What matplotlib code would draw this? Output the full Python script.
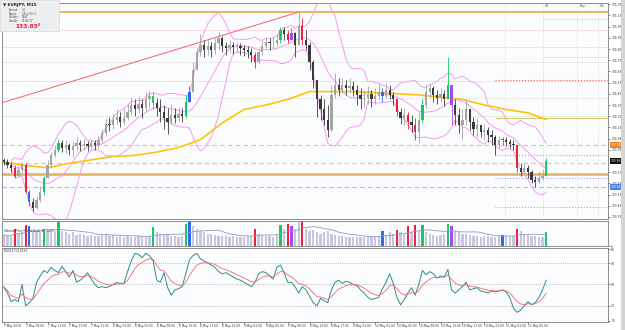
import numpy as np
import pandas as pd
import matplotlib
matplotlib.use("Agg")
import matplotlib.pyplot as plt
from matplotlib.patches import Rectangle

W, H = 625, 330

symbol = "EURJPY, M15"
bid = 133.850
first_open = 133.86

# M15 candles, thinned (one drawn bar per ~40 minutes), prices in yen
close = [133.84, 133.81, 133.79, 133.72, 133.77, 133.81, 133.57, 133.48, 133.43, 133.50,
         133.57, 133.70, 133.81, 133.90, 133.95, 134.01, 133.97, 133.99, 133.95, 133.98,
         134.01, 133.99, 134.00, 133.98, 134.01, 133.99, 134.04, 134.10, 134.18, 134.17,
         134.22, 134.24, 134.20, 134.23, 134.29, 134.35, 134.31, 134.36, 134.32, 134.40,
         134.43, 134.37, 134.32, 134.29, 134.23, 134.20, 134.26, 134.23, 134.27, 134.25,
         134.38, 134.47, 134.66, 134.82, 134.89, 134.84, 134.88, 134.84, 134.90, 134.95,
         134.88, 134.86, 134.89, 134.87, 134.88, 134.86, 134.84, 134.82, 134.80, 134.73,
         134.82, 134.88, 134.91, 134.90, 134.90, 134.93, 135.02, 134.98, 134.93, 134.99,
         134.89, 135.06, 134.93, 134.89, 134.73, 134.57, 134.40, 134.31, 134.22, 134.13,
         134.44, 134.53, 134.48, 134.53, 134.50, 134.52, 134.48, 134.44, 134.40, 134.41,
         134.45, 134.40, 134.43, 134.47, 134.43, 134.48, 134.44, 134.40, 134.29, 134.23,
         134.26, 134.20, 134.17, 134.11, 134.22, 134.35, 134.47, 134.50, 134.44, 134.41,
         134.45, 134.40, 134.53, 134.35, 134.26, 134.17, 134.22, 134.31, 134.20, 134.14,
         134.17, 134.11, 134.13, 134.08, 134.06, 133.99, 134.04, 134.04, 134.02, 134.00,
         133.99, 133.79, 133.75, 133.79, 133.75, 133.68, 133.66, 133.70, 133.72, 133.85]
high = [133.88, 133.87, 133.84, 133.81, 133.81, 133.84, 133.83, 133.59, 133.52, 133.54,
        133.63, 133.72, 133.86, 133.93, 133.99, 134.05, 134.04, 134.04, 134.01, 134.03,
        134.06, 134.04, 134.05, 134.03, 134.05, 134.04, 134.07, 134.14, 134.23, 134.24,
        134.28, 134.31, 134.29, 134.31, 134.36, 134.42, 134.40, 134.43, 134.40, 134.47,
        134.48, 134.47, 134.41, 134.40, 134.35, 134.32, 134.36, 134.32, 134.33, 134.32,
        134.44, 134.52, 134.73, 134.86, 134.98, 134.93, 134.93, 134.91, 134.95, 135.00,
        134.97, 134.91, 134.93, 134.91, 134.91, 134.90, 134.89, 134.88, 134.86, 134.82,
        134.86, 134.93, 134.96, 134.95, 134.96, 134.98, 135.05, 135.05, 135.02, 135.04,
        135.00, 135.18, 135.13, 135.02, 134.91, 134.75, 134.56, 134.44, 134.40, 134.35,
        134.53, 134.64, 134.59, 134.59, 134.57, 134.59, 134.56, 134.53, 134.50, 134.48,
        134.52, 134.48, 134.50, 134.54, 134.50, 134.55, 134.53, 134.47, 134.40, 134.32,
        134.32, 134.29, 134.26, 134.23, 134.29, 134.40, 134.53, 134.55, 134.52, 134.48,
        134.50, 134.48, 134.78, 134.53, 134.40, 134.32, 134.31, 134.40, 134.31, 134.24,
        134.23, 134.17, 134.18, 134.15, 134.13, 134.08, 134.07, 134.06, 134.06, 134.05,
        134.04, 133.99, 133.83, 133.83, 133.81, 133.77, 133.72, 133.75, 133.77, 133.88]
low = [133.81, 133.79, 133.75, 133.70, 133.72, 133.75, 133.56, 133.45, 133.40, 133.42,
       133.48, 133.55, 133.70, 133.79, 133.89, 133.93, 133.93, 133.92, 133.90, 133.89,
       133.95, 133.94, 133.95, 133.94, 133.96, 133.95, 133.97, 134.01, 134.07, 134.12,
       134.14, 134.18, 134.15, 134.17, 134.22, 134.26, 134.25, 134.28, 134.23, 134.29,
       134.32, 134.31, 134.25, 134.20, 134.14, 134.09, 134.18, 134.19, 134.21, 134.20,
       134.23, 134.41, 134.47, 134.66, 134.79, 134.78, 134.80, 134.78, 134.81, 134.84,
       134.82, 134.80, 134.82, 134.81, 134.82, 134.80, 134.79, 134.77, 134.73, 134.68,
       134.72, 134.80, 134.86, 134.84, 134.85, 134.88, 134.90, 134.93, 134.90, 134.93,
       134.78, 134.89, 134.89, 134.84, 134.66, 134.50, 134.24, 134.22, 134.17, 134.06,
       134.11, 134.41, 134.43, 134.46, 134.44, 134.46, 134.43, 134.35, 134.31, 134.32,
       134.36, 134.33, 134.36, 134.40, 134.38, 134.41, 134.40, 134.35, 134.25, 134.18,
       134.17, 134.14, 134.11, 134.04, 134.01, 134.20, 134.32, 134.41, 134.38, 134.36,
       134.38, 134.34, 134.40, 134.17, 134.17, 134.10, 134.04, 134.17, 134.13, 134.08,
       134.06, 134.06, 134.04, 134.02, 133.99, 133.90, 133.97, 133.99, 133.98, 133.97,
       133.95, 133.75, 133.72, 133.73, 133.70, 133.65, 133.62, 133.65, 133.68, 133.72]

# bars painted by the volume-spread indicator (same colour on candle and volume)
highlight = {3: 'r', 6: 'r', 7: 'b', 11: 'g', 15: 'g', 41: 'g', 50: 'g', 51: 'b',
             69: 'r', 76: 'g', 78: 'r', 79: 'm', 82: 'r', 104: 'b', 108: 'r',
             111: 'r', 113: 'r', 115: 'g', 122: 'g', 123: 'm', 137: 'b', 141: 'r',
             149: 'g'}

volume = [45, 40, 42, 70, 50, 55, 85, 80, 65, 60, 55, 70, 60, 55, 60, 95, 60, 55, 50, 55,
          45, 50, 45, 40, 45, 40, 42, 45, 50, 40, 45, 38, 40, 35, 40, 38, 35, 40, 35, 38,
          42, 75, 55, 50, 45, 48, 42, 40, 38, 40, 90, 95, 80, 70, 60, 55, 50, 48, 45, 42,
          40, 42, 38, 40, 38, 36, 38, 40, 42, 70, 50, 45, 42, 40, 38, 45, 85, 70, 90, 80,
          70, 95, 95, 70, 60, 65, 55, 50, 55, 60, 50, 45, 42, 40, 38, 36, 38, 35, 38, 36,
          40, 38, 35, 40, 60, 45, 55, 50, 65, 55, 50, 80, 55, 85, 60, 85, 55, 50, 45, 42,
          45, 48, 90, 80, 60, 55, 50, 48, 45, 42, 40, 38, 40, 42, 38, 36, 40, 45, 40, 38,
          42, 70, 60, 50, 45, 42, 40, 38, 35, 55]
volume_label = "Volume Price (Chart Scale 1)  1447"

rsi = [47.7, 42, 34, 36, 34, 50, 30, 33, 37, 52, 58, 63, 61, 66, 63, 61, 67, 62, 57, 63,
       52, 54, 57, 61, 55, 50, 47, 48, 47, 48, 50, 52, 51, 51, 62, 72, 79, 78, 75, 79,
       77, 72, 54, 52, 61, 47, 40, 45, 46, 48, 60, 73, 77, 79, 74, 72, 70, 68, 66, 62,
       60, 61, 59, 57, 55, 54, 52, 50, 48, 52, 60, 62, 61, 58, 55, 66, 68, 61, 52, 52,
       48, 42, 48, 45, 39, 33, 30, 37, 35, 33, 45, 52, 54, 51, 53, 52, 50, 49, 45, 42,
       38, 36, 37, 38, 46, 52, 60, 51, 38, 31, 36, 42, 47, 40, 50, 63, 59, 62, 60, 56,
       58, 57, 64, 45, 42, 45, 48, 52, 45, 46, 47, 44, 43, 42, 44, 43, 44, 45, 43, 38,
       28, 24, 26, 30, 34, 31, 33, 38, 45, 54]
rsi_label = "RSI(14) 54.0523"

# slow moving average, read every 6 bars (last point on the last bar)
ma_step = 6
ma_slow = [133.84, 133.81, 133.79, 133.83, 133.86, 133.89, 133.90, 133.93, 133.97, 134.04,
           134.19, 134.31, 134.35, 134.40, 134.47, 134.47, 134.47, 134.46, 134.45, 134.44,
           134.42, 134.40, 134.35, 134.31, 134.28, 134.22]

# drawn levels
top_line = 135.18
faint_levels = [135.02, 134.87, 134.73, 134.56, 134.41, 134.25]
faint_colors = ['#F8D8E0', '#D8F0D0', '#E8E8E8', '#E4DCF4', '#E8E8E8', '#D8F0D0']
dashed_levels = [133.993, 133.832]
gold_level = 133.73
blue_level = 133.618
right_start = 135
right_levels = [134.57, 134.23, 133.904, 133.698, 133.44]
right_colors = ['#F06050', '#D8C870', '#A8A0F0', '#A8A0F0', '#A8A0F0']
right_styles = [':', '-', ':', ':', ':']
far_start = 148
far_levels = [135.12, 134.78]
far_colors = ['#F8A8A8', '#F4A0B0']
trend_bars = [-0.5, 81]
trend_prices = [134.37, 135.18]
sep_bars = [137.7, 148.1, 157.5, 163.2]
sep_names = ['', 'H4', 'Day', 'Wk']

price_ticks = [133.35, 133.45, 133.55, 133.65, 133.75, 133.95, 134.05, 134.15,
               134.25, 134.35, 134.45, 134.55, 134.65, 134.75, 134.85, 134.95, 135.05,
               135.15, 135.25]
boxes = [(133.993, '#F08020'), (133.850, '#101010'), (133.618, '#4A80E8')]

date_step = 6
date_labels = ["7 May 2018", "7 May 09:00", "7 May 13:00", "7 May 17:00", "7 May 21:00",
               "8 May 01:00", "8 May 05:00", "8 May 09:00", "8 May 13:00", "8 May 17:00",
               "8 May 21:00", "9 May 01:00", "9 May 05:00", "9 May 09:00", "9 May 13:00",
               "9 May 17:00", "9 May 21:00", "10 May 01:00", "10 May 05:00", "10 May 09:00",
               "10 May 13:00", "10 May 17:00", "10 May 21:00", "11 May 01:00", "11 May 05:00"]

info_keys = ["Spread", "Range", "Volume", "Candle"]
info_vals = ["2.0", "28.4 / 63.1", "1447", "00:06:37"]

hl_colors = {'r': '#F0203C', 'g': '#18C860', 'b': '#2F6BF0', 'm': '#A848F0'}


def fx(px):
    return px / W


def fy(py):
    return 1 - py / H


c = np.array(close)
o = np.r_[first_open, c[:-1]]
hi = np.maximum(np.array(high), np.maximum(o, c))
lo = np.minimum(np.array(low), np.minimum(o, c))
n = len(c)
x = np.arange(n)

cols = np.where(c >= o, '#A4A4A4', '#3A3A3A').astype(object)
vcols = np.array(['#C6C6DE'] * n, dtype=object)
for i, code in highlight.items():
    cols[i] = hl_colors[code]
    vcols[i] = hl_colors[code]

bar_px = 3.64
xlim = (-0.5, 606 / bar_px - 0.5)
bg = '#FAFCFE'

fig = plt.figure(figsize=(W / 100, H / 100), dpi=100)
fig.patch.set_facecolor('white')
ax = fig.add_axes([fx(2), fy(219), fx(606), 216 / H])
axv = fig.add_axes([fx(2), fy(246), fx(606), 25 / H])
axr = fig.add_axes([fx(2), fy(322), fx(606), 74 / H])

for a in (ax, axv, axr):
    a.set_facecolor(bg)
    a.set_xlim(*xlim)
    for sp in a.spines.values():
        sp.set_color('#7A7A7A')
        sp.set_linewidth(0.6)
    a.yaxis.tick_right()
    a.tick_params(axis='y', labelsize=2.2, length=1.5, width=0.4, pad=0.8, colors='#333333')
    a.tick_params(axis='x', bottom=False, labelbottom=False)

# ---- main price panel
ax.set_ylim(133.332, 135.261)
ax.set_yticks(price_ticks)
ax.set_yticklabels([f"{p:.3f}" for p in price_ticks])

for lvl, col in zip(faint_levels, faint_colors):
    ax.axhline(lvl, color=col, lw=0.6, zorder=1)
ax.axhline(top_line, color='#E4A030', lw=1.1, zorder=2)
for lvl in dashed_levels:
    ax.axhline(lvl, color='#F8BC88', lw=0.8, ls=(0, (4, 3)), zorder=2)
ax.axhline(gold_level, color='#E8B860', lw=2.0, zorder=2)
ax.axhline(blue_level, color='#A8BCF0', lw=0.8, ls=(0, (4, 3)), zorder=2)
for lvl, col, ls in zip(right_levels, right_colors, right_styles):
    ax.hlines(lvl, right_start, xlim[1], colors=col, lw=0.8, linestyles=ls, zorder=2)
for lvl, col in zip(far_levels, far_colors):
    ax.hlines(lvl, far_start, xlim[1], colors=col, lw=0.7, linestyles=':', zorder=2)
for b, name in zip(sep_bars, sep_names):
    ax.axvline(b, color='#C8C8C8', lw=0.5, ls=':', zorder=1)
    if name:
        ax.text(b + 0.6, 135.235, name, fontsize=2.2, color='#555555', va='center')

ax.plot(trend_bars, trend_prices, color='#F06464', lw=0.7, zorder=3)

# Bollinger bands on the closes
s = pd.Series(c)
mid = s.rolling(11, min_periods=3).mean()
sd = s.rolling(11, min_periods=3).std(ddof=0)
for band in (mid + 2 * sd, mid, mid - 2 * sd):
    ax.plot(x, band, color='#F29CF2', lw=0.7, zorder=3)

ma_x = np.r_[np.arange(len(ma_slow) - 1) * ma_step, n - 1]
ax.plot(ma_x, ma_slow, color='#FFC20E', lw=1.2, zorder=4)

ax.vlines(x, lo, hi, colors=cols, lw=0.6, zorder=5)
ax.bar(x, np.maximum(np.abs(c - o), 0.004), bottom=np.minimum(o, c), width=0.62,
       color=cols, lw=0, zorder=6)

for price, col in boxes:
    ax.text(1.004, price, f"{price:.3f}", transform=ax.get_yaxis_transform(),
            fontsize=2.2, color='white', va='center', ha='left',
            bbox=dict(boxstyle='square,pad=0.25', fc=col, ec='none'), zorder=10,
            clip_on=False)

# ---- volume panel
axv.set_ylim(0, 100)
axv.bar(x, volume, width=0.62, color=vcols, lw=0)
axv.plot(x, pd.Series(volume).rolling(10, min_periods=1).mean(), color='#8C9CC0', lw=0.6)
axv.set_yticks([0])
axv.set_yticklabels(["0"])
axv.text(0.004, 0.62, volume_label, transform=axv.transAxes,
         fontsize=2.1, color='#333333', va='center')

# ---- RSI panel
axr.set_ylim(15, 84)
axr.set_yticks([16, 30, 50, 70, 83])
axr.set_yticklabels(["16", "30", "50", "70", "83"])
for lvl in (30, 50, 70):
    axr.axhline(lvl, color='#A8A8A8', lw=0.5, ls=(0, (1.5, 1.5)))
axr.plot(x, rsi, color='#2F8C8C', lw=0.7)
axr.plot(x, pd.Series(rsi).ewm(span=6).mean(), color='#F26868', lw=0.6)
axr.text(0.004, 0.955, rsi_label, transform=axr.transAxes, fontsize=2.1,
         color='#333333', va='center')
date_pos = np.arange(len(date_labels)) * date_step
axr.set_xticks(date_pos)
axr.set_xticklabels(date_labels, ha='left')
axr.tick_params(axis='x', bottom=True, labelbottom=True, labelsize=2.1, length=1.2,
                width=0.4, pad=0.6, colors='#333333')

# ---- info box
fig.add_artist(Rectangle((fx(0), fy(31)), fx(59), 31 / H, transform=fig.transFigure,
                         facecolor='#ECEEF0', edgecolor='#CFCFCF', lw=0.4, zorder=20))
fig.text(fx(3), fy(5), "\u25bc " + symbol, fontsize=3.0, weight='bold', va='center',
         color='#222222', zorder=21)
for k, (key, val) in enumerate(zip(info_keys, info_vals)):
    fig.text(fx(9), fy(10 + 3.6 * k), key, fontsize=1.9, va='center', color='#444444',
             zorder=21)
    fig.text(fx(22), fy(10 + 3.6 * k), val, fontsize=1.9, va='center', color='#444444',
             zorder=21)
fig.text(fx(15), fy(26), f"{bid:.2f}", fontsize=4.2, weight='bold', color='#E8203C',
         va='center', zorder=21)
fig.text(fx(38), fy(25), "0", fontsize=2.4, weight='bold', color='#E8203C',
         va='center', zorder=21)

# window border on the right
fig.add_artist(Rectangle((fx(621), 0), fx(4), 1, transform=fig.transFigure,
                         facecolor='#D4D4D4', edgecolor='none'))

fig.savefig("out.png", dpi=100, facecolor=fig.get_facecolor())
